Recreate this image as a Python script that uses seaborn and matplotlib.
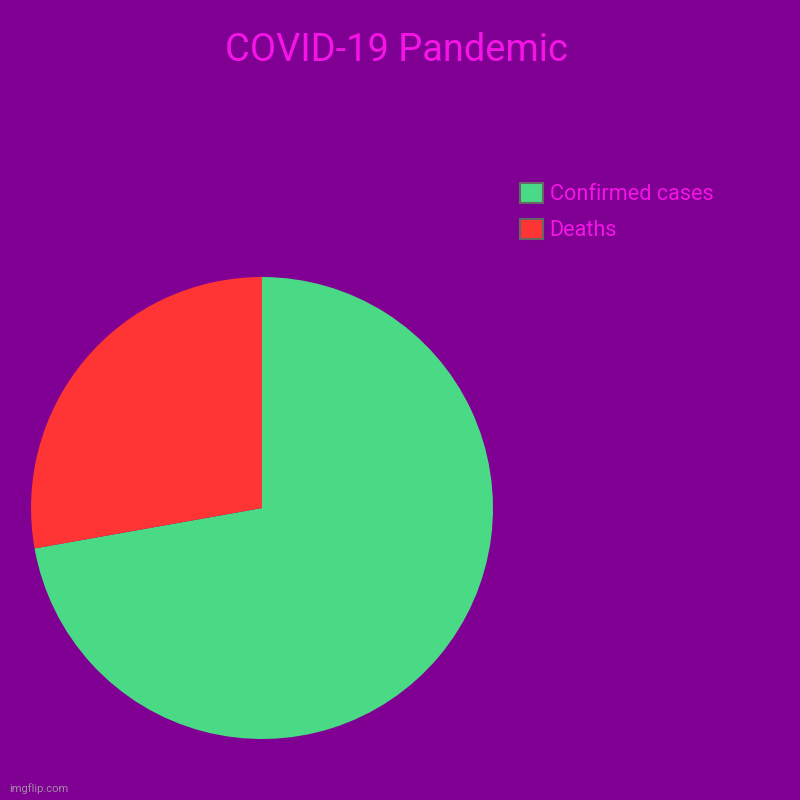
import matplotlib
matplotlib.use("Agg")
from matplotlib import pyplot as plt
from matplotlib.patches import Patch
import seaborn as sns

# data
labels = ["Confirmed cases", "Deaths"]
shares = [72.2, 27.8]
colors = ["#4ad984", "#ff3434"]

bg = "#800094"
text_color = "#f514e6"

sns.set_theme(style="white")
plt.rcParams["font.family"] = ["Roboto", "DejaVu Sans"]

fig = plt.figure(figsize=(8, 8), dpi=100, facecolor=bg)
ax = fig.add_axes([0.03875, 0.07625, 0.5775, 0.5775])
ax.set_facecolor(bg)
ax.pie(shares, colors=colors, startangle=90, counterclock=False,
       wedgeprops={"linewidth": 0})
ax.set_xlim(-1, 1)
ax.set_ylim(-1, 1)
ax.set_aspect("equal")
ax.axis("off")

fig.text(0.495, 0.937, "COVID-19 Pandemic", ha="center", va="center",
         color=text_color, fontsize=27.4)

handles = [Patch(facecolor=c, edgecolor="#666666", linewidth=1.5) for c in colors]
fig.legend(handles, labels, loc="upper left", bbox_to_anchor=(0.626, 0.796),
           frameon=False, fontsize=15.6, labelcolor=text_color,
           handlelength=1.05, handleheight=1.05, handletextpad=0.3,
           labelspacing=0.62)

fig.text(0.012, 0.01, "imgflip.com", color="#a58aa8", fontsize=8)

fig.savefig("out.png", dpi=100, facecolor=bg)
